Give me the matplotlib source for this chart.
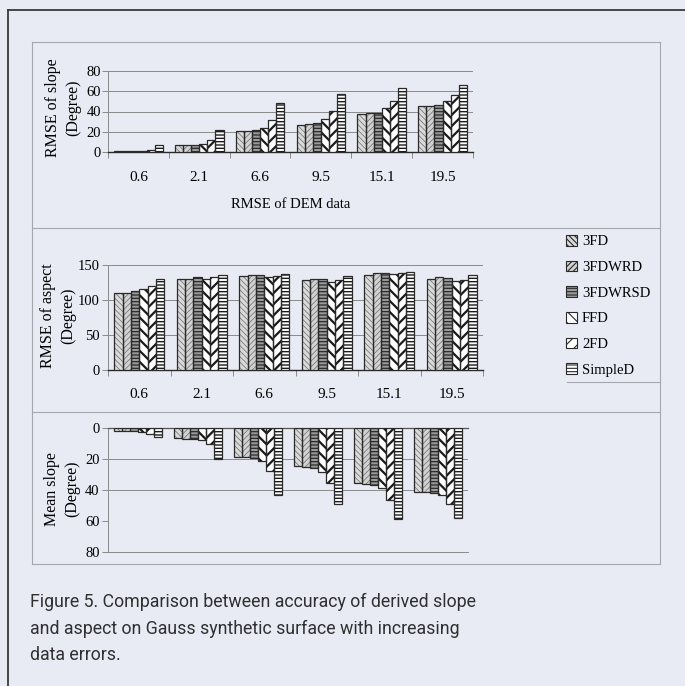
import numpy as np
import matplotlib
matplotlib.use('Agg')
import matplotlib.pyplot as plt
from matplotlib import font_manager
from matplotlib.lines import Line2D
from matplotlib.patches import Patch

# ---------------------------------------------------------------------------
# Dados
# ---------------------------------------------------------------------------
DEM_ERROR = ['0.6', '2.1', '6.6', '9.5', '15.1', '19.5']
METHODS = ['3FD', '3FDWRD', '3FDWRSD', 'FFD', '2FD', 'SimpleD']

# linhas = métodos, colunas = erro do DEM
RMSE_SLOPE = [
    [1.0, 6.5, 20.5, 27.0, 38.0, 45.0],
    [1.0, 6.5, 21.0, 27.5, 38.5, 45.0],
    [1.0, 7.0, 21.5, 29.0, 39.0, 46.0],
    [1.0, 8.0, 24.0, 33.0, 43.0, 50.0],
    [2.0, 11.5, 32.0, 40.5, 50.0, 56.5],
    [6.5, 22.0, 48.5, 57.0, 63.5, 66.0],
]
RMSE_ASPECT = [
    [110, 130, 134, 128, 136, 130],
    [110, 130, 135, 130.5, 138, 133],
    [113, 132.5, 135, 130, 138.5, 131.5],
    [116, 130.5, 133, 126, 136.5, 127],
    [120, 133, 134, 128, 139, 128],
    [130, 135.5, 137, 134, 140, 135],
]
MEAN_SLOPE = [
    [2.0, 6.4, 18.7, 24.6, 35.4, 41.0],
    [2.0, 6.8, 18.7, 25.2, 36.0, 41.5],
    [2.0, 6.8, 19.6, 26.0, 37.0, 42.0],
    [2.6, 7.5, 21.3, 28.3, 38.7, 43.0],
    [3.7, 10.3, 27.8, 35.4, 46.3, 49.0],
    [6.0, 19.7, 43.5, 49.0, 58.7, 58.0],
]

# ---------------------------------------------------------------------------
# Estilo
# ---------------------------------------------------------------------------
installed = {f.name for f in font_manager.fontManager.ttflist}
plt.rcParams['font.family'] = 'Liberation Serif'
plt.rcParams['hatch.linewidth'] = 0.8
if 'Liberation Sans Narrow' in installed:
    CAPTION_FONT, CAPTION_SIZE = 'Liberation Sans Narrow', 14.5
else:
    CAPTION_FONT, CAPTION_SIZE = 'Roboto', 12.8

BG = '#e8ebf4'
EDGE = '#2a2a2a'
GRID = '#8a8a8a'

# (face, hatch, hatch colour, hatch lw)
STYLES = [
    ('#dadada', '\\\\\\\\\\\\', '#6a6a6a', 0.5),
    ('#d2d2d2', '//////', '#6a6a6a', 0.5),
    ('#9a9a9a', '-----', '#2a2a2a', 0.9),
    ('#ffffff', '\\\\\\', '#1a1a1a', 1.6),
    ('#ffffff', '///', '#1a1a1a', 1.6),
    ('#ffffff', '-----', '#1a1a1a', 1.0),
]

W, H = 685, 686
fig = plt.figure(figsize=(W / 100, H / 100), dpi=100, facecolor=BG)


def fx(px):
    return px / W


def fy(py):
    return 1 - py / H


def grouped_bars(ax, values):
    x = np.arange(len(DEM_ERROR))
    width = 0.8 / len(METHODS)
    handles = []
    for i, (name, vals) in enumerate(zip(METHODS, values)):
        face, hatch, hcol, hlw = STYLES[i]
        pos = x - 0.4 + width * (i + 0.5)
        bars = ax.bar(pos, vals, width, color=face, edgecolor=hcol,
                      hatch=hatch, linewidth=0, zorder=3)
        for b in bars:
            if hasattr(b, 'set_hatch_linewidth'):
                b.set_hatch_linewidth(hlw)
        ax.bar(pos, vals, width, fill=False, edgecolor=EDGE,
               linewidth=0.9, zorder=4)
        handles.append(Patch(facecolor=face, edgecolor=EDGE, hatch=hatch,
                             linewidth=0.8, label=name))
    ax.set_xlim(-0.5, len(DEM_ERROR) - 0.5)
    return handles


def style_axis(ax, yticks, show_xlabels=True):
    ax.set_facecolor('none')
    for s in ['top', 'right']:
        ax.spines[s].set_visible(False)
    ax.spines['left'].set_color(GRID)
    ax.spines['left'].set_linewidth(0.7)
    ax.spines['bottom'].set_color(EDGE)
    ax.spines['bottom'].set_linewidth(1.0)
    ax.set_yticks(yticks)
    ax.yaxis.grid(True, color=GRID, linewidth=0.7, zorder=0)
    ax.set_axisbelow(True)
    ax.tick_params(axis='y', length=4, width=0.7, color=GRID,
                   labelsize=10.5, pad=2)
    # marcas entre grupos
    n = len(DEM_ERROR)
    ax.set_xticks(np.arange(n + 1) - 0.5, minor=True)
    ax.set_xticks(np.arange(n))
    if show_xlabels:
        ax.set_xticklabels(DEM_ERROR, fontsize=11)
    else:
        ax.set_xticklabels([])
    ax.tick_params(axis='x', which='major', length=0, pad=14)
    ax.tick_params(axis='x', which='minor', length=4, width=0.7, color=GRID)


# --- painel 1: RMSE of slope ---
ax1 = fig.add_axes([fx(108), fy(152), fx(473) - fx(108), fy(71) - fy(152)])
handles = grouped_bars(ax1, RMSE_SLOPE)
ax1.set_ylim(0, 80)
style_axis(ax1, [0, 20, 40, 60, 80])
ax1.tick_params(axis='y', labelsize=10.5, pad=1)
ax1.set_xlabel('RMSE of DEM data', fontsize=10.5, labelpad=10)

# --- painel 2: RMSE of aspect ---
ax2 = fig.add_axes([fx(108), fy(370), fx(483) - fx(108), fy(265) - fy(370)])
grouped_bars(ax2, RMSE_ASPECT)
ax2.set_ylim(0, 150)
style_axis(ax2, [0, 50, 100, 150])
ax2.tick_params(axis='x', which='major', pad=13)

# --- painel 3: Mean slope (eixo invertido) ---
ax3 = fig.add_axes([fx(108), fy(552), fx(468) - fx(108), fy(428) - fy(552)])
grouped_bars(ax3, MEAN_SLOPE)
ax3.set_ylim(80, 0)
style_axis(ax3, [0, 20, 40, 60, 80], show_xlabels=False)
ax3.spines['bottom'].set_color(GRID)
ax3.spines['bottom'].set_linewidth(0.7)
ax3.spines['top'].set_visible(True)
ax3.spines['top'].set_color('#555555')
ax3.spines['top'].set_linewidth(0.9)
ax3.tick_params(axis='x', which='minor', length=0)
ax3.get_ygridlines()[3].set_visible(False)

# rótulos dos eixos y
ylab = dict(rotation=90, ha='center', va='center', multialignment='center',
            fontsize=11.5, linespacing=1.3)
fig.text(fx(63), fy(108), 'RMSE of slope\n(Degree)', **ylab)
fig.text(fx(58), fy(316), 'RMSE of aspect\n(Degree)', **ylab)
fig.text(fx(62), fy(489), 'Mean slope\n(Degree)', **ylab)

# legenda
fig.legend(handles=handles, loc='upper left', bbox_to_anchor=(fx(566), fy(235)),
           frameon=False, fontsize=10.5, handlelength=0.75, handleheight=0.75,
           handletextpad=0.35, labelspacing=0.84, borderpad=0, borderaxespad=0)

# molduras
def fline(x0, y0, x1, y1, color, lw):
    fig.add_artist(Line2D([fx(x0), fx(x1)], [fy(y0), fy(y1)], color=color,
                          linewidth=lw, transform=fig.transFigure))

fline(8, 10, W, 10, '#3a3a3a', 1.3)
fline(8, 10, 8, H, '#3a3a3a', 1.3)
FRAME = '#a4a7ae'
fline(32, 42, 660, 42, FRAME, 0.8)
fline(32, 42, 32, 564, FRAME, 0.8)
fline(660, 42, 660, 564, FRAME, 0.8)
fline(32, 564, 660, 564, FRAME, 0.8)
fline(32, 228, 660, 228, FRAME, 0.8)
fline(32, 412, 660, 412, FRAME, 0.8)
fline(567, 382, 660, 382, FRAME, 0.8)

# legenda da figura
CAPTION = ['Figure 5. Comparison between accuracy of derived slope',
           'and aspect on Gauss synthetic surface with increasing',
           'data errors.']
for line, base in zip(CAPTION, [607, 634, 660]):
    fig.text(fx(30), fy(base), line, family=CAPTION_FONT, fontsize=CAPTION_SIZE,
             color='#303030', va='baseline', ha='left')

fig.savefig('out.png', dpi=100, facecolor=BG)
